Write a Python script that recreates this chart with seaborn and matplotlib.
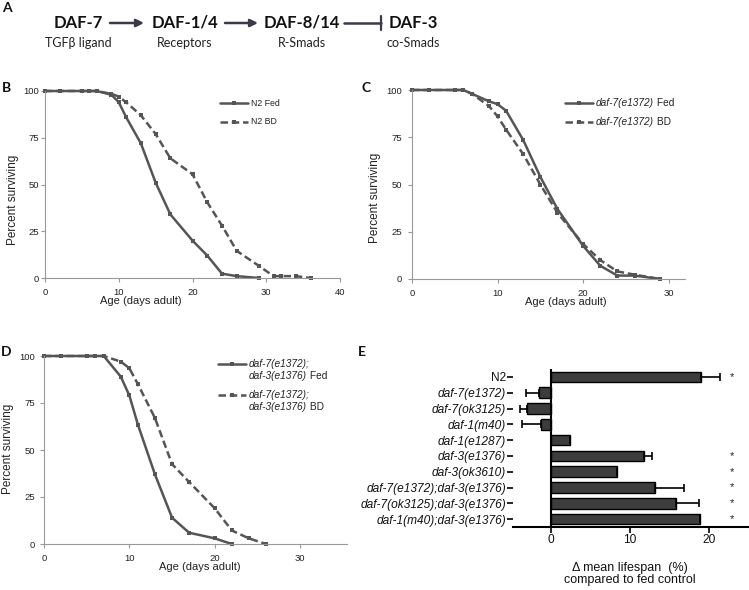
import matplotlib
matplotlib.use('Agg')
import matplotlib.pyplot as plt
import seaborn as sns
import pandas as pd
from matplotlib.lines import Line2D

# panel B: N2
n2_days_fed = [0, 2, 5, 6, 7, 9, 10, 11, 13, 15, 17, 20, 22, 24, 26, 29]
n2_fed = [100, 100, 100, 100, 100, 98, 94, 86, 72, 51, 34, 20, 12, 2.3, 1, 0]
n2_days_bd = [0, 2, 5, 6, 7, 9, 10, 11, 13, 15, 17, 20, 22, 24, 26, 29, 31, 32, 34, 36]
n2_bd = [100, 100, 100, 100, 100, 98.5, 97, 94, 87, 77, 64, 55.5, 40.5, 28, 14.5, 6.5, 1, 1, 1, 0]

# panel C: daf-7(e1372)
e1372_days = [0, 2, 5, 6, 7, 9, 10, 11, 13, 15, 17, 20, 22, 24, 26, 29]
e1372_fed = [100, 100, 100, 100, 98, 94, 92.5, 89, 73.5, 54, 37, 17.5, 7, 1.8, 1.8, 0]
e1372_bd = [100, 100, 100, 100, 98, 91.5, 86, 79, 66, 50, 35, 18.5, 10, 4, 2.3, 0]

# panel D: daf-7(e1372);daf-3(e1376)
dbl_days_fed = [0, 2, 5, 6, 7, 9, 10, 11, 13, 15, 17, 20, 22]
dbl_fed = [100, 100, 100, 100, 100, 89, 79, 63.5, 37, 14, 6, 3, 0]
dbl_days_bd = [0, 2, 5, 6, 7, 9, 10, 11, 13, 15, 17, 20, 22, 24, 26]
dbl_bd = [100, 100, 100, 100, 100, 97, 93.5, 85, 67, 42.5, 33, 19, 7.2, 3, 0]

# panel E: change in mean lifespan
strains = ['N2', 'daf-7(e1372)', 'daf-7(ok3125)', 'daf-1(m40)', 'daf-1(e1287)',
           'daf-3(e1376)', 'daf-3(ok3610)', 'daf-7(e1372);daf-3(e1376)',
           'daf-7(ok3125);daf-3(e1376)', 'daf-1(m40);daf-3(e1376)']
delta = [19.0, -1.5, -3.0, -1.3, 2.4, 11.8, 8.3, 13.2, 15.8, 18.8]
err = [2.3, 1.7, 0.9, 2.3, 0, 1.0, 0, 3.6, 2.9, 0]
signif = [True, False, False, False, False, True, True, True, True, True]

# panel A: pathway
genes = ['DAF-7', 'DAF-1/4', 'DAF-8/14', 'DAF-3']
roles = ['TGF\u03b2 ligand', 'Receptors', 'R-Smads', 'co-Smads']

sns.set_theme(style='white')
plt.rcParams['font.family'] = ['Liberation Sans', 'DejaVu Sans']

LINE = '#555555'
TXT = '#222222'
fig = plt.figure(figsize=(7.49, 5.90), dpi=100)

# overlay in pixel coordinates for the pathway diagram, labels and legends
ov = fig.add_axes([0, 0, 1, 1], zorder=5)
ov.set_xlim(0, 749)
ov.set_ylim(590, 0)
ov.axis('off')
ov.patch.set_alpha(0)

cal = ['Lato', 'DejaVu Sans']

# panel A
for x, big, small in zip([78, 185, 302, 413], genes, roles):
    ov.text(x, 23, big, ha='center', va='center', fontsize=12, fontweight='bold', family=cal, color='#111111')
    ov.text(x, 43, small, ha='center', va='center', fontsize=9, family=cal, color=TXT)
for x0, x1 in [(110, 144), (225, 258)]:
    ov.annotate('', xy=(x1, 23), xytext=(x0, 23),
                arrowprops=dict(arrowstyle='-|>', color='#3a3a4a', lw=1.8, mutation_scale=11,
                                shrinkA=0, shrinkB=0))
ov.plot([344, 381], [23, 23], color='#3a3a4a', lw=1.8)
ov.plot([381, 381], [16, 30], color='#3a3a4a', lw=1.6)

for x, y, s in [(2, 8, 'A'), (2, 88, 'B'), (361, 88, 'C'), (1, 352, 'D'), (358, 352, 'E')]:
    ov.text(x, y, s, ha='left', va='center', fontsize=10, fontweight='bold', family=cal, color='#111111')


def style_surv(ax, xmax, xticks, ypad):
    ax.set_xlim(0, xmax)
    ax.set_ylim(0, 100)
    ax.set_xticks(xticks)
    ax.set_yticks([0, 25, 50, 75, 100])
    for s in ['top', 'right']:
        ax.spines[s].set_visible(False)
    for s in ['left', 'bottom']:
        ax.spines[s].set_color('#999999')
        ax.spines[s].set_linewidth(0.8)
    ax.tick_params(axis='both', length=3, width=0.8, color='#999999', labelsize=6.8,
                   labelcolor=TXT, bottom=True, left=True)
    ax.tick_params(axis='x', pad=4)
    ax.tick_params(axis='y', pad=ypad)
    ax.set_xlabel('Age (days adult)', fontsize=8, color=TXT)
    ax.set_ylabel('Percent surviving', fontsize=8.5, color=TXT)


def draw(ax, days, vals, dashed):
    df = pd.DataFrame({'day': days, 'pct': vals})
    sns.lineplot(data=df, x='day', y='pct', ax=ax, color=LINE, lw=1.8,
                 linestyle=(0, (3, 1.5)) if dashed else '-', marker='s', markersize=3.5,
                 markeredgewidth=0, clip_on=False)


def legend_entry(x, y, dashed):
    ov.add_line(Line2D([x, x + 28], [y, y], color=LINE, lw=1.8,
                       linestyle=(0, (3, 1.5)) if dashed else '-'))
    ov.plot([x + 14], [y], marker='s', markersize=3.5, color=LINE, markeredgewidth=0)


rend = fig.canvas.get_renderer()


def mixed(x, y, parts, size=7.3):
    for s, st in parts:
        t = ov.text(x, y, s, style=st, fontsize=size, ha='left', va='center', color=TXT)
        x += t.get_window_extent(renderer=rend).width


# panel B
axB = fig.add_axes([45 / 749, 1 - 278 / 590, 295 / 749, 187 / 590])
draw(axB, n2_days_fed, n2_fed, False)
draw(axB, n2_days_bd, n2_bd, True)
style_surv(axB, 40, [0, 10, 20, 30, 40], 1.5)
axB.xaxis.set_label_coords(0.325, -0.095)
axB.yaxis.set_label_coords(-0.088, 0.42)
legend_entry(220, 103, False)
legend_entry(220, 122, True)
mixed(251, 103, [('N2 Fed', 'normal')], 6.3)
mixed(251, 122, [('N2 BD', 'normal')], 6.3)

# panel C
axC = fig.add_axes([412 / 749, 1 - 279 / 590, 273 / 749, 189 / 590])
draw(axC, e1372_days, e1372_fed, False)
draw(axC, e1372_days, e1372_bd, True)
style_surv(axC, 31.9, [0, 10, 20, 30], 4)
axC.xaxis.set_label_coords(0.564, -0.095)
axC.yaxis.set_label_coords(-0.114, 0.43)
legend_entry(565, 103, False)
legend_entry(565, 122, True)
mixed(596, 103, [('daf-7(e1372)', 'italic'), (' Fed', 'normal')])
mixed(596, 122, [('daf-7(e1372)', 'italic'), (' BD', 'normal')])

# panel D
axD = fig.add_axes([44 / 749, 1 - 544 / 590, 303 / 749, 188 / 590])
draw(axD, dbl_days_fed, dbl_fed, False)
draw(axD, dbl_days_bd, dbl_bd, True)
style_surv(axD, 35.5, [0, 10, 20, 30], 3.5)
axD.xaxis.set_label_coords(0.515, -0.097)
axD.yaxis.set_label_coords(-0.099, 0.505)
legend_entry(218, 364, False)
legend_entry(218, 395, True)
mixed(249, 364, [('daf-7(e1372);', 'italic')])
mixed(249, 376, [('daf-3(e1376)', 'italic'), (' Fed', 'normal')])
mixed(249, 395, [('daf-7(e1372);', 'italic')])
mixed(249, 407, [('daf-3(e1376)', 'italic'), (' BD', 'normal')])

# panel E
axE = fig.add_axes([513 / 749, 1 - 527 / 590, 235 / 749, 158 / 590])
dfE = pd.DataFrame({'strain': strains, 'delta': delta})
sns.barplot(data=dfE, x='delta', y='strain', ax=axE, color='#3d3d3d', saturation=1,
            edgecolor='black', linewidth=1, width=0.68, orient='h')
lo = [e if d < 0 else 0 for d, e in zip(delta, err)]
hi = [e if d >= 0 else 0 for d, e in zip(delta, err)]
pos = list(range(len(strains)))
axE.errorbar(delta, pos, xerr=[lo, hi], fmt='none', ecolor='black', elinewidth=1.2,
             capsize=3, capthick=1.2)
for i, s in enumerate(signif):
    if s:
        axE.text(22.9, i, '*', ha='center', va='center', fontsize=8, color=TXT)
axE.set_xlim(-4.8, 24.9)
axE.set_ylim(9.5, -0.5)
axE.set_xticks([0, 10, 20])
axE.axvline(0, color='black', lw=1.5)
for s in ['top', 'right', 'left']:
    axE.spines[s].set_visible(False)
axE.spines['bottom'].set_color('black')
axE.spines['bottom'].set_linewidth(1.5)
axE.tick_params(axis='both', length=4, width=1.2, color='black', labelsize=8.6,
                labelcolor='#111111', bottom=True, left=True, pad=1)
axE.set_xlabel('')
axE.set_ylabel('')
for lbl in axE.get_yticklabels():
    if lbl.get_text() != 'N2':
        lbl.set_style('italic')
ov.text(630, 568, '\u0394 mean lifespan  (%)', ha='center', va='center', fontsize=9, color='#111111')
ov.text(630, 580, 'compared to fed control', ha='center', va='center', fontsize=9, color='#111111')

fig.savefig('out.png', dpi=100)
